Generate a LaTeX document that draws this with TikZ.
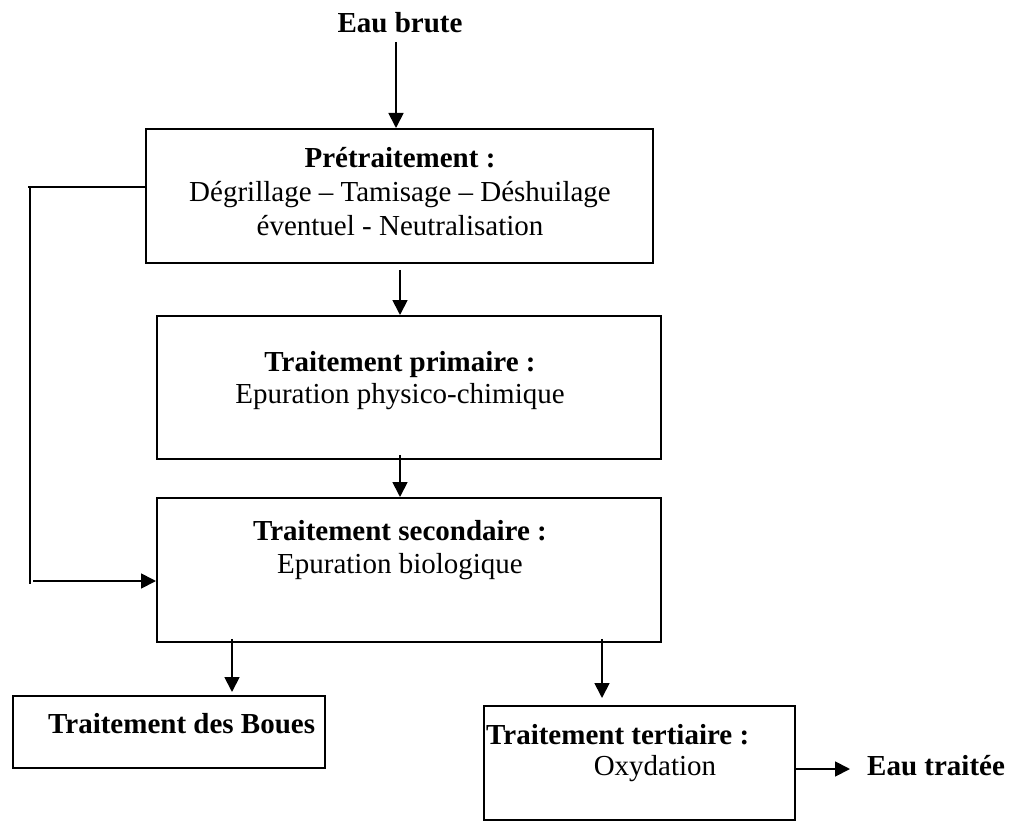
\documentclass[tikz,border=0pt]{standalone}
\usepackage{fontspec}
\setmainfont{Liberation Serif}
\usetikzlibrary{arrows.meta,calc}
\begin{document}
\begin{tikzpicture}[x=1pt,y=-1pt,
  box/.style={draw,line width=1.8pt,inner sep=0pt,anchor=north west},
  lbl/.style={inner sep=0pt,anchor=base,font=\fontsize{29}{34.5}\selectfont},
  blbl/.style={lbl,font=\fontsize{29}{34.5}\selectfont\bfseries},
  arr/.style={line width=1.8pt,-{Triangle[length=15pt,width=15pt]}},
  ln/.style={line width=1.8pt}]
\useasboundingbox (0,0) rectangle (1014,821);
% boxes
\node[box,minimum width=507pt,minimum height=134pt] (pre) at (145,128) {};
\node[box,minimum width=504pt,minimum height=143pt] (prim) at (156,315) {};
\node[box,minimum width=504pt,minimum height=144pt] (sec) at (156,497) {};
\node[box,minimum width=312pt,minimum height=72pt] (boues) at (12,695) {};
\node[box,minimum width=311pt,minimum height=114pt] (tert) at (483,705) {};
% texts
\node[blbl] (eb) at (400,33) {Eau brute};
\node[blbl] (preT) at (400,168) {Prétraitement :};
\node[lbl] (preA) at (400,201) {Dégrillage – Tamisage – Déshuilage};
\node[lbl] (preB) at (400,235) {éventuel - Neutralisation};
\node[blbl] (primT) at (400,371) {Traitement primaire :};
\node[lbl] (primA) at (400,403) {Epuration physico-chimique};
\node[blbl] (secT) at (400,540) {Traitement secondaire :};
\node[lbl] (secA) at (400,573) {Epuration biologique};
\node[blbl,anchor=base west] (bouesT) at (48,733) {Traitement des Boues};
\node[blbl,anchor=base west] (tertT) at (486,744) {Traitement tertiaire :};
\node[lbl] (tertA) at (655,775) {Oxydation};
\node[blbl,anchor=base west] (et) at (867,775) {Eau traitée};
% helper coordinates
\coordinate (xa) at (396,0);
\coordinate (xb) at (400,0);
\coordinate (xc) at (232,0);
\coordinate (xd) at (602,0);
\coordinate (ye) at (0,769);
\coordinate (yb) at (0,187);
\coordinate (bl) at (30,187);
\coordinate (bl2) at (30,584);
\coordinate (ba) at (33,581);
% connectors
\draw[arr] ($(eb.base -| xa)+(0,9)$) -- (pre.north -| xa);
\draw[arr] ($(pre.south -| xb)+(0,6)$) -- (prim.north -| xb);
\draw[arr] ($(prim.south -| xb)+(0,-5)$) -- (sec.north -| xb);
\draw[arr] ($(sec.south -| xc)+(0,-4)$) -- ($(boues.north -| xc)+(0,-3)$);
\draw[arr] ($(sec.south -| xd)+(0,-4)$) -- ($(tert.north -| xd)+(0,-7)$);
\draw[arr] (tert.east |- ye) -- ($(et.west |- ye)+(-17,0)$);
\draw[ln] (pre.west |- yb) -- ($(bl)+(-2,0)$);
\draw[ln] (bl) -- (bl2);
\draw[arr] (ba) -- (sec.west |- ba);
\end{tikzpicture}
\end{document}
